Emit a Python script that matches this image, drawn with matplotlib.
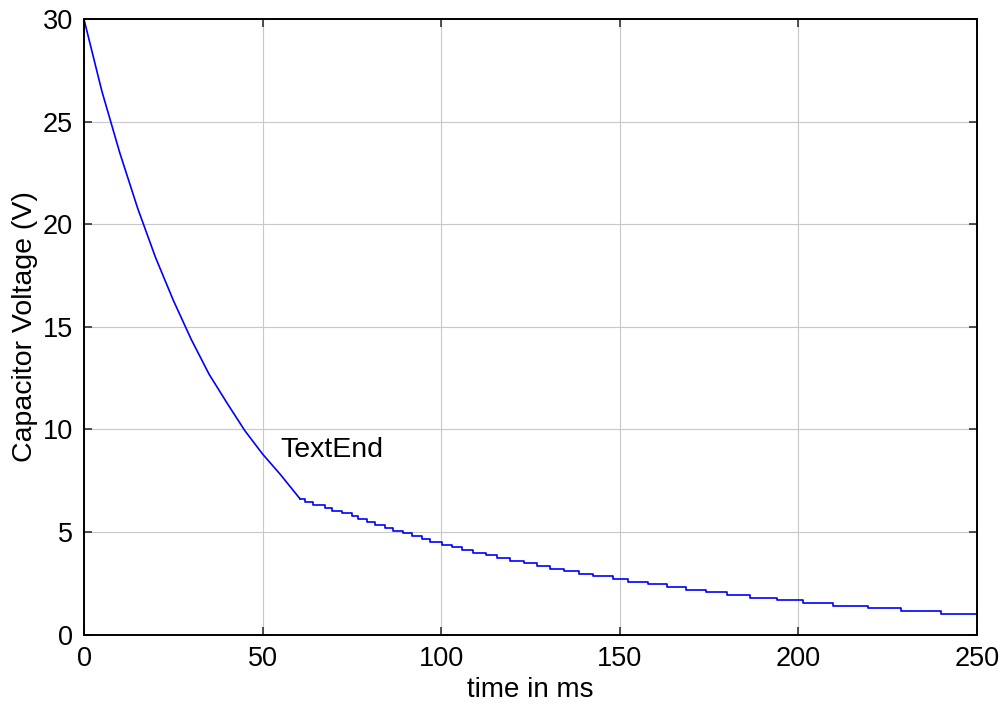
import matplotlib
matplotlib.use("Agg")
import matplotlib.pyplot as plt

# Fast discharge phase (ms, V)
t_fast = [0, 5, 10, 15, 20, 25, 30, 35, 40, 45, 50, 55, 60, 60.5]
v_fast = [30.0, 26.5, 23.5, 20.8, 18.4, 16.3, 14.4, 12.7, 11.3, 9.95, 8.8, 7.8, 6.72, 6.62]

# Slow discharge phase: times at which the sampled voltage drops one level
t_slow = [60.5, 61.9, 64.2, 67.5, 69.4, 72.2, 75.0, 76.8, 79.2, 81.5, 84.3,
          86.6, 89.4, 91.7, 94.5, 96.9, 100.1, 102.9, 105.7, 109.0, 112.5,
          115.7, 119.4, 123.1, 126.9, 130.6, 134.3, 138.6, 142.6, 148.2,
          152.4, 158.0, 163.1, 168.5, 174.0, 180.0, 186.4, 193.9, 201.3,
          209.7, 219.5, 228.8, 240.0, 250.0]
v_slow = [6.62, 6.46, 6.32, 6.18, 6.04, 5.91, 5.77, 5.63, 5.49, 5.35, 5.21,
          5.07, 4.93, 4.80, 4.66, 4.52, 4.38, 4.25, 4.12, 3.99, 3.86,
          3.73, 3.60, 3.47, 3.34, 3.21, 3.08, 2.96, 2.84, 2.71,
          2.58, 2.45, 2.32, 2.19, 2.06, 1.93, 1.80, 1.67, 1.54,
          1.41, 1.28, 1.15, 1.02, 1.02]

x_ticks = [0, 50, 100, 150, 200, 250]
y_ticks = [0, 5, 10, 15, 20, 25, 30]

plt.rcParams['font.family'] = ['Liberation Sans', 'DejaVu Sans']

fig = plt.figure(figsize=(10.05, 7.04), dpi=100)
ax = fig.add_axes([0.0836, 0.0987, 0.8885, 0.8737])

ax.plot(t_fast, v_fast, color='#0000ff', lw=1.2)
ax.plot(t_slow, v_slow, color='#0000ff', lw=1.2, drawstyle='steps-post')

ax.text(55, 9, 'TextEnd', fontsize=20.5, va='center', ha='left')

ax.set_xlim(0, 250)
ax.set_ylim(0, 30)
ax.set_xticks(x_ticks)
ax.set_yticks(y_ticks)
ax.grid(True, color='#c8c8c8', lw=0.8)
ax.set_axisbelow(True)

ax.tick_params(direction='in', length=5.5, width=1.2, labelsize=19.5,
               top=True, right=True, pad=8, color='#333333')
for s in ax.spines.values():
    s.set_linewidth(1.4)
    s.set_color('black')

ax.set_xlabel('time in ms', fontsize=20, labelpad=4)
ax.set_ylabel('Capacitor Voltage (V)', fontsize=20.5, labelpad=3)

fig.savefig('out.png', dpi=100)
